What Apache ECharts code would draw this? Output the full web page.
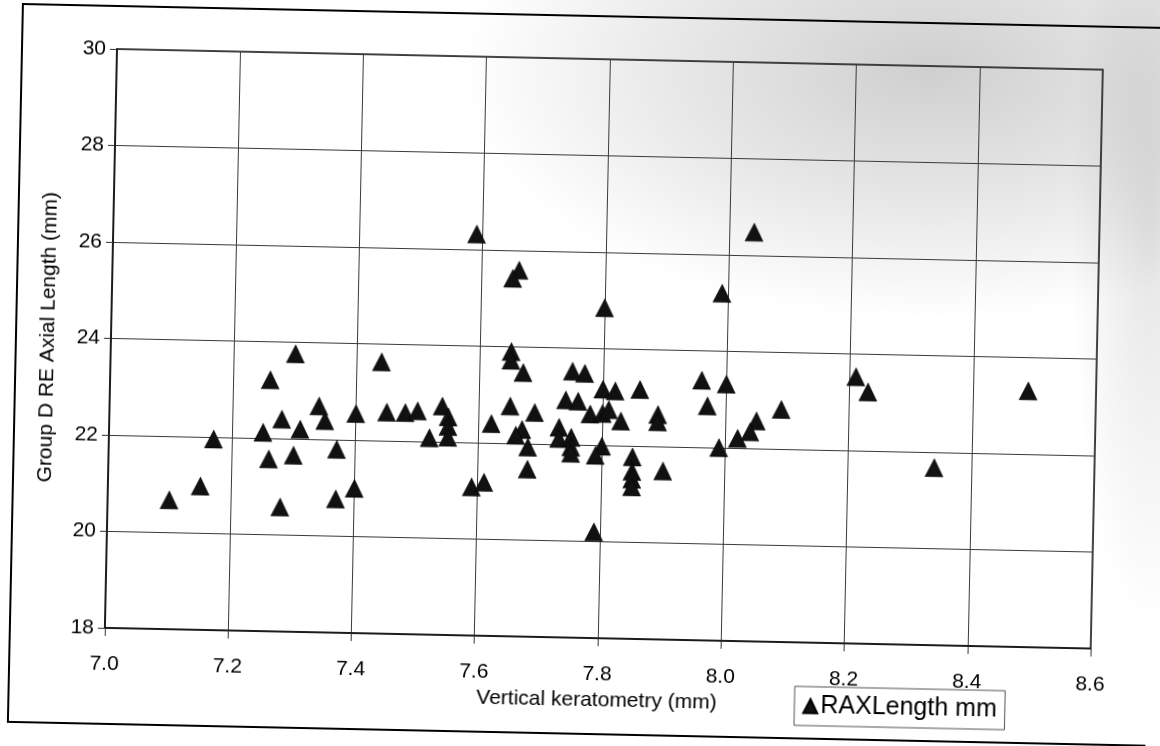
<!DOCTYPE html>
<html>
<head>
<meta charset="utf-8">
<script src="https://cdn.jsdelivr.net/npm/echarts@6/dist/echarts.min.js"></script>
<style>
  html, body { margin: 0; padding: 0; background: #fff; overflow: hidden; }
  #page { position: relative; width: 1160px; height: 746px; overflow: hidden; background: #fff; }
  #haze {
    position: absolute; left: 0; top: 0; width: 1160px; height: 746px;
    background:
      radial-gradient(ellipse 470px 250px at 930px 70px, rgba(0,0,0,0.19), rgba(0,0,0,0.09) 55%, rgba(0,0,0,0) 100%),
      radial-gradient(ellipse 80px 400px at 1150px 230px, rgba(0,0,0,0.10), rgba(0,0,0,0) 100%);
  }
  #chart {
    position: absolute; left: 0; top: 0; width: 1160px; height: 746px;
    transform: rotate(1.2deg); transform-origin: 117px 49px;
  }
</style>
</head>
<body>
<div id="page">
  <div id="haze"></div>
  <div id="chart"></div>
</div>
<script>
// Vertical keratometry (mm) and right-eye axial length (mm), one entry per eye
const keratometry = [
  7.10, 7.15, 7.17, 7.30, 7.26, 7.28, 7.25, 7.31, 7.26, 7.30,
  7.28, 7.34, 7.35, 7.37, 7.40, 7.40, 7.37, 7.44, 7.45, 7.48,
  7.50, 7.52, 7.54, 7.55, 7.55, 7.55, 7.59, 7.61, 7.62, 7.65,
  7.59, 7.66, 7.65, 7.80, 7.65, 7.65, 7.67, 7.75, 7.77, 7.80,
  7.82, 7.86, 7.96, 7.69, 7.74, 7.76, 7.78, 7.80, 7.81, 7.83,
  7.89, 7.89, 7.97, 7.99, 7.67, 7.66, 7.68, 7.68, 7.73, 7.73,
  7.75, 7.75, 7.75, 7.80, 7.79, 7.85, 7.85, 7.85, 7.85, 7.90,
  7.79, 8.04, 7.99, 8.00, 8.09, 8.05, 8.04, 8.02, 8.21, 8.23,
  8.49, 8.34
];
const axialLength = [
  20.68, 20.98, 21.96, 23.76, 23.21, 22.40, 22.12, 22.20, 21.57, 21.66,
  20.58, 22.69, 22.39, 21.80, 22.55, 21.00, 20.77, 23.63, 22.59, 22.59,
  22.63, 22.08, 22.74, 22.52, 22.32, 22.10, 21.08, 21.18, 22.40, 22.77,
  26.32, 25.59, 25.42, 24.85, 23.90, 23.72, 23.47, 23.52, 23.48, 23.16,
  23.13, 23.17, 23.39, 22.65, 22.92, 22.90, 22.64, 22.66, 22.74, 22.51,
  22.66, 22.51, 22.86, 22.00, 22.29, 22.17, 21.93, 21.47, 22.35, 22.12,
  22.15, 21.95, 21.82, 21.98, 21.79, 21.77, 21.47, 21.31, 21.15, 21.49,
  20.20, 26.48, 25.20, 23.32, 22.82, 22.57, 22.34, 22.20, 23.53, 23.22,
  23.31, 21.68
];

const xAxisRange = { min: 7.0, max: 8.6, step: 0.2 };
const yAxisRange = { min: 18, max: 30, step: 2 };

const seriesName = 'RAXLength mm';
const xTitle = 'Vertical keratometry (mm)';
const yTitle = 'Group D RE Axial Length (mm)';

const points = keratometry.map((k, i) => [k, axialLength[i]]);
const FONT = '"Liberation Sans", Arial, sans-serif';

const chart = echarts.init(document.getElementById('chart'), null, { renderer: 'canvas' });
chart.setOption({
  animation: false,
  backgroundColor: 'transparent',
  textStyle: { fontFamily: FONT, color: '#000' },
  grid: {
    left: 117, top: 49, width: 986, height: 579,
    show: true, borderColor: '#111', borderWidth: 1.5, backgroundColor: 'transparent'
  },
  graphic: [{
    type: 'rect',
    shape: { x: 22, y: 6, width: 1140, height: 718 },
    style: { fill: 'none', stroke: '#000', lineWidth: 2 },
    z: -1
  }],
  legend: {
    left: 808, top: 672,
    padding: [7, 8, 7, 8],
    itemWidth: 14, itemHeight: 14, itemGap: 4,
    borderColor: '#555', borderWidth: 1,
    textStyle: { fontFamily: FONT, fontSize: 25, color: '#000', padding: [0, 0, 0, -2] },
    data: [{ name: seriesName, icon: 'triangle', itemStyle: { color: '#111', opacity: 1 } }]
  },
  xAxis: {
    type: 'value',
    min: xAxisRange.min, max: xAxisRange.max, interval: xAxisRange.step,
    name: xTitle, nameLocation: 'middle', nameGap: 50,
    nameTextStyle: { fontFamily: FONT, fontSize: 21, color: '#000' },
    axisLine: { show: true, onZero: false, lineStyle: { color: '#111', width: 1.5 } },
    axisTick: { show: true, length: 8, lineStyle: { color: '#333', width: 1 } },
    axisLabel: {
      margin: 26, fontFamily: FONT, fontSize: 21, color: '#000',
      formatter: v => v.toFixed(1)
    },
    splitLine: { show: true, lineStyle: { color: '#3a3a3a', width: 1 } }
  },
  yAxis: {
    type: 'value',
    min: yAxisRange.min, max: yAxisRange.max, interval: yAxisRange.step,
    name: yTitle, nameLocation: 'middle', nameGap: 52, nameRotate: 90,
    nameTextStyle: { fontFamily: FONT, fontSize: 21, color: '#000' },
    axisLine: { show: true, onZero: false, lineStyle: { color: '#111', width: 1.5 } },
    axisTick: { show: true, length: 7, lineStyle: { color: '#333', width: 1 } },
    axisLabel: { margin: 11, fontFamily: FONT, fontSize: 21, color: '#000' },
    splitLine: { show: true, lineStyle: { color: '#3a3a3a', width: 1 } }
  },
  series: [{
    name: seriesName,
    type: 'scatter',
    symbol: 'triangle',
    symbolSize: 18,
    itemStyle: { color: '#111', borderColor: '#000', borderWidth: 0.5, opacity: 1 },
    emphasis: { disabled: true },
    data: points
  }]
});
</script>
</body>
</html>
